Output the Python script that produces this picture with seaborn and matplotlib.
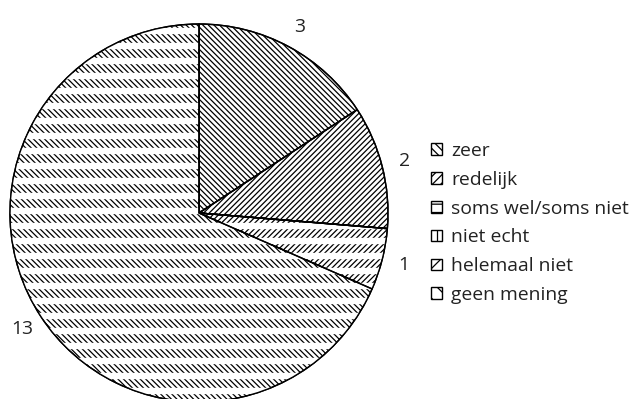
import numpy as np
import matplotlib
matplotlib.use("Agg")
import matplotlib.pyplot as plt
from matplotlib.patches import Patch
import seaborn as sns

# Answer categories and how many respondents chose each one
categories = ["zeer", "redelijk", "soms wel/soms niet", "niet echt",
              "helemaal niet", "geen mening"]
counts = [3, 2, 0, 0, 1, 13]

# Fill pattern per category; the "broken" ones get horizontal gaps
hatches = ["\\" * 6, "/" * 6, "-", "|", "/" * 6, "\\" * 6]
legend_hatches = ["\\" * 4, "/" * 4, "--", "||", "//", "\\\\"]
broken = [False, False, False, False, True, True]

sns.set_theme(style="white")
plt.rcParams["font.family"] = ["Open Sans", "DejaVu Sans"]
plt.rcParams["hatch.linewidth"] = 0.9

FS = 13.9

fig = plt.figure(figsize=(6.34, 3.99), dpi=100)
ax = fig.add_axes([10 / 634, -3 / 399, 378 / 634, 378 / 399])

labels = [str(c) if c else "" for c in counts]
wedges, texts = ax.pie(
    counts, startangle=90, counterclock=False, labels=labels,
    labeldistance=1.12, colors=["white"] * len(counts),
    wedgeprops=dict(edgecolor="black", linewidth=1.0),
    textprops=dict(fontsize=FS, color="#222222"),
)
for t in texts:
    t.set_ha("center")
    t.set_va("center")

for w, h in zip(wedges, hatches):
    w.set_hatch(h)

# Cut the diagonal hatching into short dashes with white horizontal bands
band_y = np.arange(-1.02, 1.05, 0.0794)
for w, b in zip(wedges, broken):
    if b:
        lc = ax.hlines(band_y, -1.05, 1.05, colors="white", linewidth=4.6,
                       zorder=2)
        lc.set_clip_path(w)

# Outline drawn on top of the bands
ax.pie(counts, startangle=90, counterclock=False,
       wedgeprops=dict(fill=False, edgecolor="black", linewidth=1.0,
                       zorder=3))

ax.set_xlim(-1, 1)
ax.set_ylim(-1, 1)
ax.set_aspect("equal")
ax.axis("off")

handles = [Patch(facecolor="white", edgecolor="black", hatch=h, linewidth=1.0)
           for h in legend_hatches]
fig.legend(handles, categories, loc="center left",
           bbox_to_anchor=(431 / 634, 1 - 223 / 399), frameon=False,
           handlelength=0.55, handleheight=0.55, handletextpad=0.5,
           labelspacing=0.56, fontsize=FS, borderpad=0, borderaxespad=0,
           labelcolor="#222222")

fig.savefig("out.png", dpi=100)
